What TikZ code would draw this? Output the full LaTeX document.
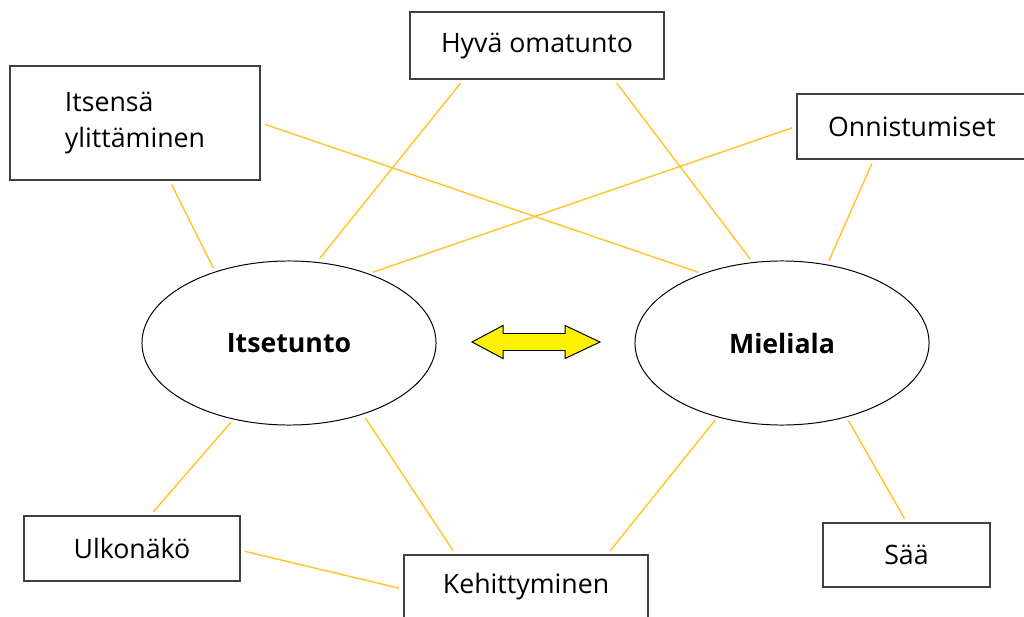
\documentclass[tikz,border=0pt]{standalone}
\usepackage{fontspec}
\setmainfont{Open Sans}
\usetikzlibrary{shapes.geometric}

\definecolor{linkgold}{RGB}{255,196,40}
\definecolor{boxgray}{RGB}{64,64,64}

\begin{document}
\begin{tikzpicture}[x=0.025cm, y=-0.025cm,
    box/.style={draw=boxgray, line width=1.3pt, fill=white, inner sep=0pt,
      font=\fontsize{19pt}{26pt}\selectfont},
    oval/.style={draw=black, line width=0.7pt, ellipse, inner sep=0pt,
      minimum width=7.35cm, minimum height=4.1cm,
      font=\fontsize{19pt}{26pt}\selectfont\bfseries},
    link/.style={linkgold, line width=1pt, shorten <=0.1cm, shorten >=0.1cm}]
  \path[use as bounding box, clip] (0,0) rectangle (1024,617);

  % keskiosa
  \node[oval] (itsetunto) at (289, 343) {Itsetunto};
  \node[oval] (mieliala)  at (782, 343) {Mieliala};
  \coordinate (nuoli) at (536, 342);
  \draw[shift={(nuoli)}, draw=black, line width=0.7pt, fill=yellow, line join=miter]
    (-64,0) -- (-33,-16.5) -- (-33,-8.5) -- (29,-8.5) -- (29,-16.5) -- (64,0)
    -- (29,16.5) -- (29,8.5) -- (-33,8.5) -- (-33,16.5) -- cycle;

  % laatikot
  \node[box, minimum width=6.35cm, minimum height=1.675cm] (hyva) at (537, 45.5) {Hyvä omatunto};
  \node[box, minimum width=6.25cm, minimum height=2.85cm, align=left] (itsensa) at (135, 123)
    {Itsensä\\ylittäminen};
  \node[box, minimum width=5.75cm, minimum height=1.625cm] (onnistumiset) at (912, 126.5) {Onnistumiset};
  \node[box, minimum width=5.4cm, minimum height=1.625cm] (ulkonako) at (132, 548.5) {Ulkonäkö};
  \node[box, minimum width=6.1cm, minimum height=1.6cm] (kehittyminen) at (526, 587) {Kehittyminen};
  \node[box, minimum width=4.175cm, minimum height=1.6cm] (saa) at (906.5, 555) {Sää};

  % yhteydet
  \draw[link] (hyva.205) -- (itsetunto.71);
  \draw[link] (hyva.336) -- (mieliala.110.6);
  \draw[link] (itsensa.east) -- (mieliala.139);
  \draw[link] (itsensa.301.5) -- (itsetunto.136.5);
  \draw[link] (onnistumiset.west) -- (itsetunto.41);
  \draw[link] (onnistumiset.221.3) -- (mieliala.60);
  \draw[link] (ulkonako.61) -- (itsetunto.234.7);
  \draw[link] (ulkonako.-1) -- (kehittyminen.181.4);
  \draw[link] (itsetunto.316) -- (kehittyminen.155.7);
  \draw[link] (mieliala.229.8) -- (kehittyminen.22.6);
  \draw[link] (mieliala.311) -- (saa.north);
\end{tikzpicture}
\end{document}
